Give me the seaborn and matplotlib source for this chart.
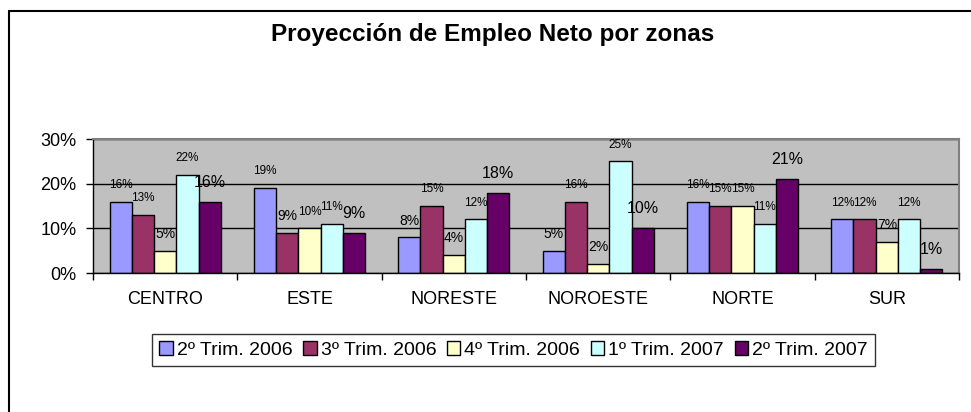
import numpy as np
import pandas as pd
import seaborn as sns
import matplotlib.pyplot as plt
from matplotlib.lines import Line2D
from matplotlib.ticker import FuncFormatter, FixedLocator

# values (percent)
zonas = ['CENTRO', 'ESTE', 'NORESTE', 'NOROESTE', 'NORTE', 'SUR']
series = ['2º Trim. 2006', '3º Trim. 2006', '4º Trim. 2006', '1º Trim. 2007', '2º Trim. 2007']
t2_2006 = [16, 19, 8, 5, 16, 12]
t3_2006 = [13, 9, 15, 16, 15, 12]
t4_2006 = [5, 10, 4, 2, 15, 7]
t1_2007 = [22, 11, 12, 25, 11, 12]
t2_2007 = [16, 9, 18, 10, 21, 1]
colores = ['#9999FF', '#993366', '#FFFFCC', '#CCFFFF', '#660066']


if __name__ == '__main__':
    valores = [t2_2006, t3_2006, t4_2006, t1_2007, t2_2007]
    df = pd.DataFrame({'zona': np.tile(zonas, len(series)),
                       'serie': np.repeat(series, len(zonas)),
                       'valor': np.concatenate(valores)})

    sns.set_style('white')
    plt.rcParams['font.family'] = ['Liberation Sans', 'DejaVu Sans']
    plt.rcParams['text.color'] = 'black'
    plt.rcParams['xtick.color'] = 'black'
    plt.rcParams['ytick.color'] = 'black'

    f = plt.figure(figsize=(9.71, 4.12), dpi=100)
    ax = f.add_axes([93 / 971, 139 / 412, 866 / 971, 134 / 412])
    ax.set_facecolor('#C0C0C0')

    sns.barplot(df, x='zona', y='valor', hue='serie', palette=colores, width=0.77,
                edgecolor='black', linewidth=1, saturation=1, ax=ax)
    handles, labels = ax.get_legend_handles_labels()
    ax.get_legend().remove()

    ax.set(xlim=(-0.5, len(zonas) - 0.5), ylim=(0, 30), xlabel='', ylabel='')
    ax.set_yticks([0, 10, 20, 30])
    ax.yaxis.set_major_formatter(FuncFormatter(lambda v, p: f'{v:.0f}%'))
    ax.grid(axis='y', color='black', linewidth=1)
    ax.set_axisbelow(True)

    for side in ['top', 'right']:
        ax.spines[side].set_color('#808080')
        ax.spines[side].set_linewidth(1.5)
    for side in ['left', 'bottom']:
        ax.spines[side].set_color('black')
        ax.spines[side].set_linewidth(1)

    ax.tick_params(axis='y', which='major', left=True, length=5, width=1, pad=7, labelsize=13)
    ax.tick_params(axis='x', which='major', bottom=False, length=0, pad=13, labelsize=13)
    ax.xaxis.set_minor_locator(FixedLocator(np.arange(-0.5, len(zonas), 1)))
    ax.tick_params(axis='x', which='minor', bottom=True, length=5, width=1)

    # data labels
    for i, cont in enumerate(ax.containers):
        for bar, v in zip(cont, valores[i]):
            if i == len(series) - 1:
                size, off = 11.5, 14
            elif v >= 10:
                size, off = 8.5, 12
            else:
                size, off = 10, 12
            ax.annotate(f'{v}%', (bar.get_x() + bar.get_width() / 2, bar.get_height()),
                        xytext=(0, off), textcoords='offset points',
                        ha='center', va='center', fontsize=size, color='black')

    f.suptitle('Proyección de Empleo Neto por zonas', x=493 / 971, y=1 - 35 / 412,
               va='center', fontsize=17.5, fontweight='bold', color='black')

    leg = f.legend(handles, labels, loc='center', bbox_to_anchor=(513.5 / 971, 1 - 350 / 412),
                   ncol=5, fontsize=14, frameon=True, fancybox=False, edgecolor='black',
                   handlelength=0.7, handleheight=0.7, handletextpad=0.2, columnspacing=0.55,
                   borderpad=0.35, borderaxespad=0)
    leg.get_frame().set_linewidth(1)

    # outer chart border (left and top edges visible)
    f.add_artist(Line2D([9 / 971, 9 / 971], [0, 1 - 11 / 412], color='black', linewidth=1.5,
                        transform=f.transFigure))
    f.add_artist(Line2D([9 / 971, 1], [1 - 11 / 412, 1 - 11 / 412], color='black', linewidth=1.5,
                        transform=f.transFigure))

    plt.savefig('out.png', dpi=100)
